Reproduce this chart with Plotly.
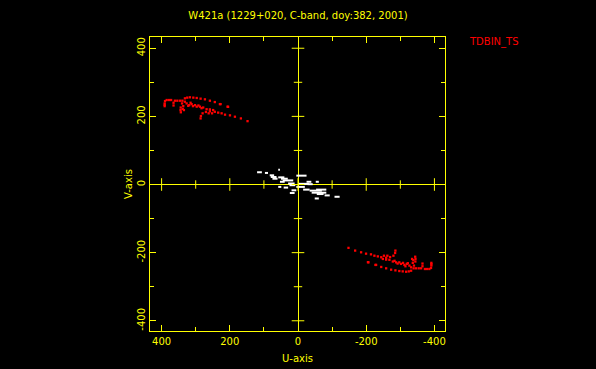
import plotly.graph_objects as go

YEL = "#ffff00"
RED = "#ff0000"
FONT = "DejaVu Sans"

# Red visibilities (one half of the uv track; the other half is the conjugate)
red_u = [391, 391, 391, 390, 385, 378, 372,
         365, 365, 361, 354, 346, 339,
         344.5, 344, 343.6, 336.5, 334.5, 340, 338,
         331.6, 324.8, 317, 307, 297, 285.6, 273, 258.4, 244, 227, 206.6,
         331.6, 326.6, 319, 312, 302, 297, 287.5, 278, 268, 258.4, 248.8,
         322, 315, 308, 292, 283,
         285.6, 284.7, 279.8, 270, 258.4, 244, 234, 224, 214, 199.5, 185, 167.5, 148,
         229, 205, 262, 252]
red_v = [230, 234, 238, 245, 248, 248, 248,
         232, 240, 246, 246, 246, 246,
         218.5, 226, 212, 230, 218.5, 238, 222,
         253, 255, 256, 255, 254, 252, 250, 246, 242, 236, 228.5,
         243, 238, 233, 236, 233, 228.5, 228.5, 226, 221, 220.5, 218.5,
         231, 240, 230, 232, 224,
         194, 201, 209, 213, 215, 213.5, 211, 209, 205, 203, 199, 194, 186,
         236, 228, 209, 209]

# White (short-baseline) dashes: start u, end u, v
white_u0 = [120, 97, 58, 83, 80, 75, 58, 50, 45, 53, 5, 29, 25, -2, -25, -52,
            58, 42, 19, 24, -15, -34, -40, -55, -78, -107, -49, 5, -53, -28]
white_u1 = [106, 88, 53, 70, 63, 60, 40, 30, 14, 39, -25, 10, 8, -32, -39, -61,
            49, 29, 5, 10, -34, -70, -83, -75, -93, -122, -61, -20, -83, -43]
white_v = [36, 34, 43, 27, 22, 17, 21, 17, 12, 8, 26, 3, -2, 2, 8, 8,
           -7, -9, -17, -25, -15, -18, -24, -28, -32, -36, -41, -7, -15, 1]

tick_vals = [-400, -200, 0, 200, 400]
tick_text = ["-400", "-200", "0", "200", "400"]
minor_vals = [-300, -100, 100, 300]

fig = go.Figure()

# white dashes as line segments
wx, wy = [], []
for a, b, v in zip(white_u0, white_u1, white_v):
    wx += [a, b, None]
    wy += [v, v, None]
fig.add_trace(go.Scatter(x=wx, y=wy, mode="lines",
                         line=dict(color="white", width=2), hoverinfo="skip"))

# red points and their conjugates
fig.add_trace(go.Scatter(x=red_u + [-u for u in red_u], y=red_v + [-v for v in red_v],
                         mode="markers",
                         marker=dict(symbol="square", size=2.3, color=RED, line=dict(width=0))))

# tick crosses on the zero lines
fig.add_trace(go.Scatter(x=[0] * len(tick_vals), y=tick_vals, mode="markers",
                         marker=dict(symbol="line-ew", size=9, line=dict(color=YEL, width=1))))
fig.add_trace(go.Scatter(x=[0] * len(minor_vals), y=minor_vals, mode="markers",
                         marker=dict(symbol="line-ew", size=6, line=dict(color=YEL, width=1))))
fig.add_trace(go.Scatter(x=tick_vals, y=[0] * len(tick_vals), mode="markers",
                         marker=dict(symbol="line-ns", size=9, line=dict(color=YEL, width=1))))
fig.add_trace(go.Scatter(x=minor_vals, y=[0] * len(minor_vals), mode="markers",
                         marker=dict(symbol="line-ns", size=6, line=dict(color=YEL, width=1))))

axis_common = dict(
    showgrid=False, zeroline=True, zerolinecolor=YEL, zerolinewidth=1,
    showline=True, linecolor=YEL, linewidth=1, mirror="ticks",
    ticks="inside", ticklen=6, tickcolor=YEL, tickwidth=1,
    tickvals=tick_vals, ticktext=tick_text,
    tickfont=dict(family=FONT, size=10, color=YEL),
    minor=dict(tickvals=minor_vals, ticks="inside", ticklen=4, tickcolor=YEL, tickwidth=1),
)

fig.update_layout(
    width=596, height=369,
    paper_bgcolor="black", plot_bgcolor="black",
    margin=dict(l=150, r=151, t=37, b=38),
    showlegend=False,
    xaxis=dict(range=[434, -431], ticklabelstandoff=1, **axis_common),
    yaxis=dict(range=[-430, 433], tickangle=-90, ticklabelstandoff=0, **axis_common),
    title=dict(text="W421a (1229+020, C-band, doy:382, 2001)", x=0.5, xanchor="center",
               y=1 - 15 / 369, yanchor="middle",
               font=dict(family=FONT, size=10, color=YEL)),
    annotations=[
        dict(text="TDBIN_TS", xref="paper", yref="paper", x=(494 - 150) / 295, y=(331 - 42) / 294,
             xanchor="center", yanchor="middle",
             showarrow=False, font=dict(family=FONT, size=10, color=RED)),
        dict(text="U-axis", xref="paper", yref="paper", x=0.5, y=(331 - 358.7) / 294,
             xanchor="center", yanchor="middle",
             showarrow=False, font=dict(family=FONT, size=10, color=YEL)),
        dict(text="V-axis", xref="paper", yref="paper", x=(128 - 150) / 295, y=0.5,
             xanchor="center", yanchor="middle",
             textangle=-90, showarrow=False, font=dict(family=FONT, size=10, color=YEL)),
    ],
)

fig.write_html("out.html", config={"displayModeBar": False},
               post_script="document.body.style.margin='0';document.body.style.background='black';")
